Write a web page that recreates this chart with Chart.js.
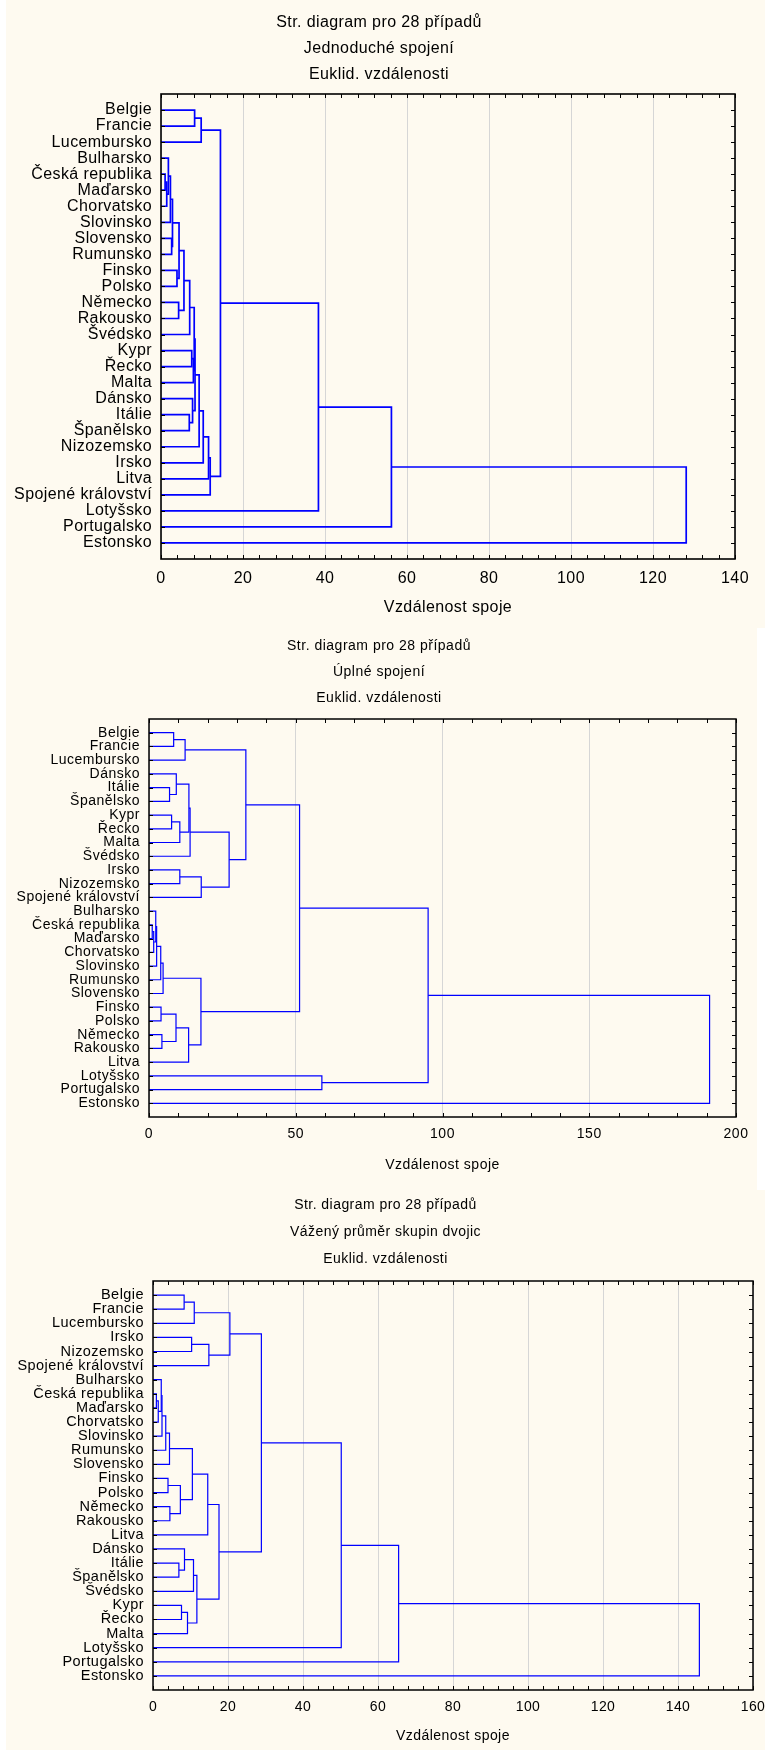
<!DOCTYPE html>
<html>
<head>
<meta charset="utf-8">
<script src="https://cdn.jsdelivr.net/npm/chart.js@4.4.1/dist/chart.umd.min.js"></script>
<style>
  body { margin: 0; background: #fff; }
  .panel { position: absolute; background: #fefaf0; }
  canvas { position: absolute; display: block; }
</style>
</head>
<body>
<div class="panel" style="left:6px;top:0;width:759px;height:628px"></div>
<div class="panel" style="left:6px;top:628px;width:751px;height:562px"></div>
<div class="panel" style="left:6px;top:1190px;width:759px;height:560px"></div>
<canvas id="c1" width="746" height="625" style="left:6px;top:0"></canvas>
<canvas id="c2" width="746" height="560" style="left:6px;top:625px"></canvas>
<canvas id="c3" width="759" height="565" style="left:6px;top:1185px"></canvas>
<script>
// Jednoduché spojení
const labels1 = ['Belgie', 'Francie', 'Lucembursko', 'Bulharsko', 'Česká republika', 'Maďarsko', 'Chorvatsko',
    'Slovinsko', 'Slovensko', 'Rumunsko', 'Finsko', 'Polsko', 'Německo', 'Rakousko', 'Švédsko', 'Kypr', 'Řecko',
    'Malta', 'Dánsko', 'Itálie', 'Španělsko', 'Nizozemsko', 'Irsko', 'Litva', 'Spojené království', 'Lotyšsko',
    'Portugalsko', 'Estonsko'];
// pairs joined (ids >= 28 are clusters created by earlier joins)
const joins1 = [[4, 5], [28, 6], [3, 29], [30, 7], [8, 9], [31, 32], [10, 11], [33, 34], [12, 13], [35, 36],
    [37, 14], [15, 16], [39, 17], [38, 40], [19, 20], [18, 42], [41, 43], [44, 21], [45, 22], [46, 23], [47, 24],
    [0, 1], [49, 2], [50, 48], [51, 25], [52, 26], [53, 27]];
const heights1 = [1.0, 1.4, 1.8, 2.3, 2.6, 2.8, 3.9, 4.4, 4.3, 5.6, 7.0, 7.5, 7.9, 8.1, 6.9, 7.7, 8.3, 9.3, 10.3,
    11.6, 12.0, 8.2, 9.8, 14.5, 38.4, 56.2, 128.1];

// Úplné spojení
const labels2 = ['Belgie', 'Francie', 'Lucembursko', 'Dánsko', 'Itálie', 'Španělsko', 'Kypr', 'Řecko', 'Malta',
    'Švédsko', 'Irsko', 'Nizozemsko', 'Spojené království', 'Bulharsko', 'Česká republika', 'Maďarsko',
    'Chorvatsko', 'Slovinsko', 'Rumunsko', 'Slovensko', 'Finsko', 'Polsko', 'Německo', 'Rakousko', 'Litva',
    'Lotyšsko', 'Portugalsko', 'Estonsko'];
const joins2 = [[0, 1], [28, 2], [4, 5], [3, 30], [6, 7], [32, 8], [31, 33], [34, 9], [10, 11], [36, 12], [35, 37],
    [29, 38], [14, 15], [40, 16], [13, 41], [42, 17], [43, 18], [44, 19], [20, 21], [22, 23], [46, 47], [48, 24],
    [45, 49], [39, 50], [25, 26], [51, 52], [53, 27]];
const heights2 = [8.4, 12.3, 7.0, 9.3, 7.7, 10.5, 13.6, 14.0, 10.5, 17.8, 27.3, 33.0, 1.1, 1.6, 2.3, 2.6, 4.0, 4.8,
    4.1, 4.4, 9.2, 13.5, 17.7, 51.3, 58.9, 95.1, 191.0];

// Vážený průměr skupin dvojic
const labels3 = ['Belgie', 'Francie', 'Lucembursko', 'Irsko', 'Nizozemsko', 'Spojené království', 'Bulharsko',
    'Česká republika', 'Maďarsko', 'Chorvatsko', 'Slovinsko', 'Rumunsko', 'Slovensko', 'Finsko', 'Polsko',
    'Německo', 'Rakousko', 'Litva', 'Dánsko', 'Itálie', 'Španělsko', 'Švédsko', 'Kypr', 'Řecko', 'Malta',
    'Lotyšsko', 'Portugalsko', 'Estonsko'];
const joins3 = [[0, 1], [28, 2], [3, 4], [30, 5], [29, 31], [7, 8], [33, 9], [6, 34], [35, 10], [36, 11], [37, 12],
    [13, 14], [15, 16], [39, 40], [38, 41], [42, 17], [19, 20], [18, 44], [45, 21], [22, 23], [47, 24], [46, 48],
    [43, 49], [32, 50], [51, 25], [52, 26], [53, 27]];
const heights3 = [8.3, 11.0, 10.3, 14.9, 20.5, 0.9, 1.4, 2.2, 2.4, 3.4, 4.4, 4.0, 4.5, 7.3, 10.5, 14.6, 6.9, 8.4,
    10.8, 7.6, 9.2, 11.7, 17.6, 28.9, 50.2, 65.5, 145.7];

const xTicks1 = [0, 20, 40, 60, 80, 100, 120, 140];
const xTicks2 = [0, 50, 100, 150, 200];
const xTicks3 = [0, 20, 40, 60, 80, 100, 120, 140, 160];

const FONT = 'Liberation Sans, Arial, sans-serif';

// Build the bracket polylines of a dendrogram from its joins
function bracketLines(joins, heights, n) {
    const pos = [];
    const h = [];
    for (let i = 0; i < n; i++) { pos[i] = i; h[i] = 0; }
    return joins.map(([a, b], k) => {
        const v = heights[k];
        pos[n + k] = (pos[a] + pos[b]) / 2;
        h[n + k] = v;
        return [{x: h[a], y: pos[a]}, {x: v, y: pos[a]}, {x: v, y: pos[b]}, {x: h[b], y: pos[b]}];
    });
}

// Frame with inward ticks, like the Statistica plot
const framePlugin = {
    id: 'frame',
    beforeDraw(chart, args, opts) {
        chart.ctx.letterSpacing = opts.spacing + 'px';
    },
    afterDatasetsDraw(chart, args, opts) {
        const {ctx, chartArea: a, scales: {x, y}} = chart;
        ctx.save();
        ctx.strokeStyle = '#000';
        ctx.lineWidth = 1;
        ctx.beginPath();
        for (let v = x.min; v <= x.max + 1e-9; v += opts.minor) {
            const px = Math.round(x.getPixelForValue(v)) + 0.5;
            ctx.moveTo(px, a.top); ctx.lineTo(px, a.top + 4);
            ctx.moveTo(px, a.bottom); ctx.lineTo(px, a.bottom - 4);
        }
        y.ticks.forEach(t => {
            const py = Math.round(y.getPixelForValue(t.value)) + 0.5;
            ctx.moveTo(a.left, py); ctx.lineTo(a.left + 4, py);
            ctx.moveTo(a.right, py); ctx.lineTo(a.right - 4, py);
        });
        ctx.stroke();
        ctx.lineWidth = opts.frame;
        ctx.strokeRect(Math.round(a.left), Math.round(a.top), Math.round(a.right - a.left), Math.round(a.bottom - a.top));
        ctx.restore();
    }
};

function dendrogram(id, c) {
    const n = c.labels.length;
    const lines = bracketLines(c.joins, c.heights, n);
    const font = {family: FONT, size: c.fontSize};
    return new Chart(document.getElementById(id).getContext('2d'), {
        type: 'scatter',
        data: {
            datasets: lines.map(d => ({
                data: d, showLine: true, borderColor: '#0000ff', borderWidth: c.lineWidth,
                pointRadius: 0, tension: 0
            }))
        },
        options: {
            responsive: false,
            animation: false,
            events: [],
            layout: {autoPadding: false, padding: {left: 0, right: 0, top: 0, bottom: c.padBottom}},
            plugins: {
                legend: {display: false},
                tooltip: {enabled: false},
                title: {
                    display: true,
                    text: ['Str. diagram pro 28 případů', c.method, 'Euklid. vzdálenosti'],
                    color: '#000',
                    font: {family: FONT, size: c.fontSize, weight: 'normal', lineHeight: c.titleLine + 'px'},
                    padding: {top: c.titleTop, bottom: c.titleBottom}
                },
                frame: {minor: c.minor, spacing: c.spacing, frame: c.frame}
            },
            scales: {
                x: {
                    type: 'linear',
                    min: 0,
                    max: c.xTicks[c.xTicks.length - 1],
                    afterBuildTicks: s => { s.ticks = c.xTicks.map(v => ({value: v})); },
                    ticks: {color: '#000', font, padding: c.tickPad, maxRotation: 0, autoSkip: false},
                    grid: {color: '#d6d6d6', drawTicks: false},
                    border: {display: false},
                    title: {display: true, text: 'Vzdálenost spoje', color: '#000', font, padding: 0},
                    afterFit: s => {
                        s.height = c.axisHeight;
                        // end labels may hang over the frame, as in the original
                        s.paddingLeft = 0;
                        s.paddingRight = 0;
                    }
                },
                y: {
                    type: 'linear',
                    min: -1,
                    max: n,
                    reverse: true,
                    afterBuildTicks: s => { s.ticks = c.labels.map((_, i) => ({value: i})); },
                    ticks: {callback: v => c.labels[v], color: '#000', font: {family: FONT, size: c.labelSize},
                        padding: 9, autoSkip: false},
                    grid: {display: false, drawTicks: false},
                    border: {display: false},
                    afterFit: s => { s.width = c.leftWidth; }
                },
                // empty box on the right, keeps the title centred on the panel
                yRight: {
                    type: 'linear',
                    position: 'right',
                    ticks: {display: false},
                    grid: {display: false, drawTicks: false},
                    border: {display: false},
                    afterFit: s => { s.width = c.rightWidth; }
                }
            }
        },
        plugins: [framePlugin]
    });
}

dendrogram('c1', {
    labels: labels1, joins: joins1, heights: heights1, xTicks: xTicks1, minor: 4,
    method: 'Jednoduché spojení', lineWidth: 1.7, fontSize: 16, labelSize: 16, spacing: 0.4, frame: 1.6,
    leftWidth: 155, rightWidth: 17, padBottom: 8, axisHeight: 58, tickPad: 10,
    titleLine: 26, titleTop: 10, titleBottom: 6
});

dendrogram('c2', {
    labels: labels2, joins: joins2, heights: heights2, xTicks: xTicks2, minor: 10,
    method: 'Úplné spojení', lineWidth: 1.2, fontSize: 14, labelSize: 14, spacing: 0.5, frame: 1.5,
    leftWidth: 143, rightWidth: 16, padBottom: 11, axisHeight: 57, tickPad: 9,
    titleLine: 26, titleTop: 8, titleBottom: 8
});

dendrogram('c3', {
    labels: labels3, joins: joins3, heights: heights3, xTicks: xTicks3, minor: 4,
    method: 'Vážený průměr skupin dvojic', lineWidth: 1.2, fontSize: 14, labelSize: 14.5, spacing: 0.45, frame: 1.5,
    leftWidth: 147, rightWidth: 12, padBottom: 5, axisHeight: 55, tickPad: 9,
    titleLine: 27, titleTop: 6.5, titleBottom: 8.5
});
</script>
</body>
</html>
